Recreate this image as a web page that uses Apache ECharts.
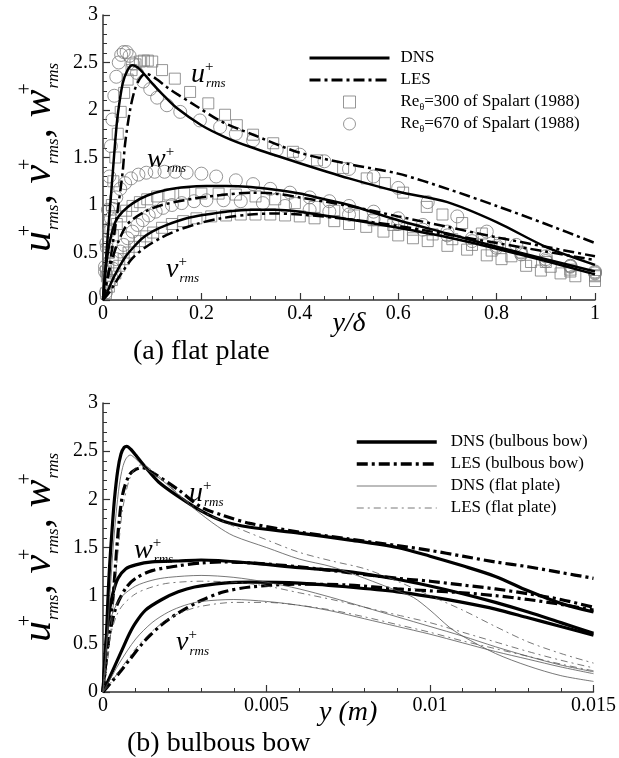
<!DOCTYPE html>
<html>
<head>
<meta charset="utf-8">
<script src="https://cdn.jsdelivr.net/npm/echarts@6/dist/echarts.min.js"></script>
<style>
html, body { margin: 0; padding: 0; background: #fff; }
#main { width: 619px; height: 758px; }
</style>
</head>
<body>
<div id="main"></div>
<script>
// ---- (a) flat plate, x is y/delta ----
var flatDnsU = [[0,0],[0.005,0.35],[0.01,0.7],[0.015,1.02],[0.02,1.35],[0.025,1.68],[0.03,1.95],[0.04,2.28],[0.05,2.42],[0.06,2.47],[0.07,2.45],[0.08,2.4],[0.1,2.28],[0.12,2.17],[0.15,2.02],[0.2,1.84],[0.25,1.71],[0.3,1.61],[0.4,1.44],[0.5,1.28],[0.6,1.14],[0.7,1.03],[0.8,0.82],[0.9,0.56],[1.0,0.37]];
var flatLesU = [[0,0],[0.01,0.25],[0.02,0.6],[0.03,0.95],[0.04,1.35],[0.045,1.65],[0.055,2.0],[0.065,2.22],[0.075,2.33],[0.085,2.38],[0.095,2.37],[0.11,2.32],[0.13,2.24],[0.15,2.17],[0.19,2.04],[0.24,1.88],[0.3,1.75],[0.4,1.55],[0.5,1.43],[0.6,1.33],[0.7,1.17],[0.8,0.99],[0.9,0.8],[1.0,0.6]];
var flatDnsW = [[0,0],[0.005,0.3],[0.01,0.5],[0.014,0.62],[0.025,0.82],[0.04,0.93],[0.061,1.02],[0.09,1.1],[0.13,1.16],[0.17,1.19],[0.21,1.2],[0.25,1.2],[0.3,1.19],[0.35,1.16],[0.4,1.12],[0.45,1.06],[0.5,1.0],[0.6,0.84],[0.7,0.7],[0.8,0.56],[0.9,0.43],[1.0,0.3]];
var flatLesW = [[0,0],[0.01,0.25],[0.02,0.45],[0.03,0.6],[0.05,0.8],[0.085,0.93],[0.12,1.0],[0.187,1.07],[0.25,1.11],[0.3,1.13],[0.35,1.12],[0.4,1.08],[0.5,0.99],[0.6,0.88],[0.7,0.77],[0.8,0.66],[0.9,0.56],[1.0,0.46]];
var flatDnsV = [[0,0],[0.01,0.1],[0.02,0.22],[0.03,0.32],[0.045,0.45],[0.061,0.55],[0.08,0.65],[0.1,0.72],[0.13,0.79],[0.17,0.86],[0.21,0.9],[0.25,0.93],[0.3,0.95],[0.35,0.95],[0.4,0.93],[0.45,0.89],[0.5,0.85],[0.6,0.76],[0.7,0.66],[0.8,0.54],[0.9,0.41],[1.0,0.27]];
var flatLesV = [[0,0],[0.01,0.06],[0.02,0.14],[0.04,0.3],[0.06,0.44],[0.085,0.55],[0.12,0.66],[0.15,0.73],[0.19,0.8],[0.24,0.86],[0.3,0.9],[0.35,0.91],[0.4,0.9],[0.5,0.85],[0.6,0.78],[0.7,0.69],[0.8,0.6],[0.9,0.51],[1.0,0.42]];

// Spalart (1988) data
var spal300U = [[0.008,0.25],[0.012,0.5],[0.015,0.75],[0.018,1.0],[0.021,1.25],[0.025,1.5],[0.03,1.75],[0.036,1.98],[0.043,2.18],[0.05,2.32],[0.058,2.42],[0.066,2.48],[0.075,2.51],[0.083,2.52],[0.091,2.52],[0.1,2.51],[0.12,2.42],[0.146,2.33],[0.177,2.19],[0.214,2.07],[0.248,1.95],[0.272,1.84],[0.305,1.74],[0.346,1.65],[0.386,1.56],[0.435,1.47],[0.488,1.39],[0.536,1.28],[0.573,1.23],[0.61,1.13],[0.658,0.98],[0.69,0.9],[0.73,0.81],[0.77,0.7],[0.807,0.6],[0.85,0.5],[0.9,0.4],[0.95,0.32],[1.0,0.26]];
var spal300W = [[0.006,0.3],[0.012,0.5],[0.02,0.68],[0.028,0.8],[0.037,0.88],[0.047,0.94],[0.06,0.99],[0.075,1.03],[0.09,1.06],[0.11,1.09],[0.135,1.11],[0.165,1.12],[0.2,1.12],[0.235,1.12],[0.27,1.11],[0.31,1.09],[0.35,1.06],[0.39,1.02],[0.43,0.98],[0.47,0.94],[0.51,0.89],[0.55,0.84],[0.59,0.79],[0.63,0.74],[0.67,0.69],[0.71,0.64],[0.75,0.58],[0.79,0.52],[0.83,0.46],[0.87,0.4],[0.91,0.35],[0.95,0.3],[1.0,0.25]];
var spal300V = [[0.006,0.07],[0.012,0.14],[0.018,0.21],[0.025,0.28],[0.033,0.36],[0.042,0.43],[0.052,0.5],[0.063,0.56],[0.075,0.62],[0.088,0.67],[0.102,0.71],[0.12,0.76],[0.14,0.8],[0.163,0.83],[0.19,0.86],[0.22,0.88],[0.25,0.89],[0.28,0.9],[0.31,0.9],[0.34,0.9],[0.37,0.89],[0.4,0.88],[0.43,0.86],[0.47,0.83],[0.5,0.8],[0.535,0.77],[0.57,0.72],[0.6,0.68],[0.63,0.65],[0.66,0.62],[0.7,0.57],[0.74,0.53],[0.78,0.47],[0.81,0.43],[0.86,0.36],[0.89,0.31],[0.93,0.28],[0.96,0.25],[1.0,0.2]];
var spal670U = [[0.004,0.3],[0.007,0.6],[0.01,0.95],[0.013,1.3],[0.016,1.62],[0.019,1.9],[0.023,2.15],[0.027,2.35],[0.032,2.5],[0.037,2.58],[0.042,2.61],[0.048,2.61],[0.054,2.57],[0.061,2.49],[0.069,2.39],[0.082,2.3],[0.096,2.22],[0.11,2.13],[0.13,2.05],[0.157,1.98],[0.197,1.89],[0.238,1.82],[0.27,1.75],[0.305,1.68],[0.353,1.58],[0.4,1.53],[0.45,1.46],[0.5,1.38],[0.55,1.3],[0.6,1.18],[0.66,1.03],[0.72,0.88],[0.78,0.72],[0.84,0.58],[0.9,0.46],[0.95,0.36],[1.0,0.29]];
var spal670W = [[0.004,0.35],[0.008,0.55],[0.012,0.72],[0.016,0.86],[0.02,0.96],[0.027,1.08],[0.035,1.17],[0.045,1.23],[0.057,1.28],[0.072,1.32],[0.088,1.34],[0.105,1.35],[0.125,1.35],[0.147,1.35],[0.17,1.34],[0.2,1.33],[0.23,1.3],[0.27,1.26],[0.305,1.22],[0.34,1.17],[0.38,1.13],[0.42,1.08],[0.46,1.04],[0.5,0.99],[0.55,0.93],[0.6,0.86],[0.65,0.79],[0.7,0.72],[0.75,0.65],[0.8,0.57],[0.85,0.5],[0.9,0.43],[0.95,0.36],[1.0,0.3]];
var spal670V = [[0.006,0.08],[0.012,0.18],[0.02,0.33],[0.027,0.43],[0.035,0.51],[0.042,0.58],[0.05,0.65],[0.06,0.72],[0.07,0.79],[0.081,0.84],[0.093,0.89],[0.107,0.93],[0.122,0.97],[0.14,1.0],[0.16,1.02],[0.185,1.04],[0.21,1.05],[0.245,1.05],[0.28,1.04],[0.325,1.02],[0.37,0.99],[0.42,0.95],[0.46,0.93],[0.5,0.9],[0.55,0.85],[0.6,0.8],[0.65,0.74],[0.7,0.68],[0.75,0.62],[0.8,0.55],[0.85,0.48],[0.9,0.41],[0.95,0.35],[1.0,0.28]];

// ---- (b) bulbous bow, x is y in metres ----
var bowDnsU = [[0,0],[0.0001,0.55],[0.00015,0.96],[0.0002,1.3],[0.00027,1.65],[0.00035,2.0],[0.00045,2.3],[0.00055,2.47],[0.00065,2.54],[0.00073,2.55],[0.00085,2.52],[0.001,2.46],[0.00128,2.34],[0.0017,2.18],[0.0023,2.03],[0.003,1.88],[0.0037,1.77],[0.0045,1.71],[0.006,1.65],[0.0075,1.58],[0.009,1.5],[0.01,1.41],[0.011,1.31],[0.012,1.2],[0.013,1.05],[0.014,0.92],[0.015,0.83]];
var bowLesU = [[0,0],[0.0001,0.35],[0.0002,0.7],[0.0003,0.96],[0.00046,1.65],[0.0006,2.05],[0.0008,2.25],[0.001,2.31],[0.0012,2.33],[0.0015,2.28],[0.0023,2.1],[0.003,1.92],[0.0037,1.83],[0.0045,1.75],[0.006,1.66],[0.0075,1.59],[0.009,1.52],[0.01,1.47],[0.011,1.41],[0.012,1.35],[0.013,1.3],[0.014,1.24],[0.015,1.18]];
var bowDnsW = [[0,0],[0.0001,0.55],[0.0002,0.85],[0.0003,1.02],[0.00046,1.18],[0.0007,1.28],[0.001,1.32],[0.0015,1.35],[0.0023,1.36],[0.003,1.37],[0.0045,1.34],[0.006,1.29],[0.0075,1.25],[0.009,1.17],[0.01,1.1],[0.011,1.02],[0.012,0.93],[0.013,0.83],[0.014,0.72],[0.015,0.61]];
var bowLesW = [[0,0],[0.0001,0.35],[0.0002,0.6],[0.0004,0.88],[0.0007,1.08],[0.001,1.18],[0.0015,1.26],[0.0023,1.31],[0.003,1.34],[0.0037,1.35],[0.0045,1.34],[0.006,1.3],[0.0075,1.24],[0.009,1.18],[0.01,1.15],[0.011,1.11],[0.012,1.07],[0.013,1.02],[0.014,0.96],[0.015,0.88]];
var bowDnsV = [[0,0],[0.0002,0.15],[0.0004,0.3],[0.0006,0.45],[0.0008,0.6],[0.001,0.72],[0.0013,0.85],[0.0018,0.96],[0.0023,1.04],[0.0028,1.09],[0.0037,1.13],[0.0045,1.14],[0.006,1.13],[0.0075,1.09],[0.009,1.04],[0.01,0.99],[0.011,0.93],[0.012,0.86],[0.013,0.77],[0.014,0.68],[0.015,0.59]];
var bowLesV = [[0,0],[0.0002,0.08],[0.0005,0.2],[0.0008,0.33],[0.0013,0.54],[0.0018,0.7],[0.0023,0.82],[0.003,0.95],[0.0037,1.04],[0.0045,1.09],[0.006,1.12],[0.0075,1.11],[0.009,1.07],[0.01,1.05],[0.011,1.03],[0.012,1.0],[0.013,0.96],[0.014,0.91],[0.015,0.85]];
var plateDnsU = [[0,0],[0.0001,0.45],[0.0002,0.95],[0.0003,1.45],[0.0004,1.85],[0.0005,2.15],[0.0006,2.33],[0.0007,2.42],[0.00083,2.46],[0.001,2.42],[0.0013,2.32],[0.0018,2.2],[0.0023,2.05],[0.0028,1.9],[0.0035,1.72],[0.004,1.62],[0.005,1.5],[0.006,1.38],[0.007,1.3],[0.008,1.18],[0.009,1.05],[0.0095,0.98],[0.01,0.85],[0.0106,0.67],[0.011,0.58],[0.012,0.4],[0.013,0.27],[0.014,0.17],[0.015,0.11]];
var plateLesU = [[0,0],[0.0001,0.2],[0.0002,0.5],[0.0003,0.85],[0.0004,1.25],[0.0005,1.6],[0.0006,1.9],[0.0008,2.2],[0.001,2.33],[0.0012,2.36],[0.0015,2.3],[0.002,2.15],[0.0025,2.0],[0.003,1.88],[0.004,1.72],[0.005,1.58],[0.006,1.45],[0.007,1.36],[0.008,1.28],[0.009,1.15],[0.01,1.0],[0.011,0.85],[0.012,0.68],[0.013,0.52],[0.014,0.4],[0.015,0.3]];
var plateDnsW = [[0,0],[0.0001,0.45],[0.0002,0.72],[0.0004,0.9],[0.0006,1.0],[0.001,1.1],[0.0015,1.16],[0.002,1.19],[0.003,1.21],[0.004,1.19],[0.005,1.14],[0.006,1.07],[0.007,0.98],[0.008,0.88],[0.009,0.78],[0.01,0.68],[0.011,0.58],[0.012,0.47],[0.013,0.37],[0.014,0.28],[0.015,0.21]];
var plateLesW = [[0,0],[0.0001,0.3],[0.0002,0.55],[0.0004,0.78],[0.0006,0.9],[0.001,1.02],[0.0015,1.09],[0.002,1.13],[0.003,1.15],[0.004,1.14],[0.005,1.1],[0.006,1.03],[0.007,0.96],[0.008,0.88],[0.009,0.8],[0.01,0.72],[0.011,0.62],[0.012,0.52],[0.013,0.42],[0.014,0.33],[0.015,0.25]];
var plateDnsV = [[0,0],[0.0002,0.12],[0.0005,0.3],[0.001,0.55],[0.0015,0.72],[0.002,0.83],[0.0025,0.9],[0.003,0.94],[0.004,0.96],[0.005,0.94],[0.006,0.9],[0.007,0.84],[0.008,0.76],[0.009,0.68],[0.01,0.6],[0.011,0.51],[0.012,0.42],[0.013,0.34],[0.014,0.26],[0.015,0.19]];
var plateLesV = [[0,0],[0.0002,0.08],[0.0005,0.22],[0.001,0.45],[0.0015,0.63],[0.002,0.76],[0.0025,0.84],[0.003,0.89],[0.004,0.93],[0.005,0.93],[0.006,0.9],[0.007,0.85],[0.008,0.78],[0.009,0.7],[0.01,0.62],[0.011,0.53],[0.012,0.45],[0.013,0.37],[0.014,0.29],[0.015,0.22]];

var SERIF = "'Liberation Serif','Times New Roman',serif";
var DASH = [11, 4, 3, 4];
var THIN_DASH = [7, 4, 2, 4];

function line(name, data, gi, width, dash, color) {
    return {
        name: name, type: 'line', xAxisIndex: gi, yAxisIndex: gi,
        data: data, symbol: 'none', smooth: 0.3, silent: true, z: 5,
        lineStyle: { color: color, width: width, type: dash }
    };
}
function marks(name, data, sym, size) {
    return {
        name: name, type: 'scatter', xAxisIndex: 0, yAxisIndex: 0,
        data: data, symbol: sym, symbolSize: size, silent: true, z: 2,
        itemStyle: { color: 'rgba(0,0,0,0)', borderColor: '#7c7c7c', borderWidth: 1 }
    };
}

// rich text for u+rms style labels (+ stacked over rms)
function richSet(big, sup, sub, lh) {
    return {
        m: { fontFamily: SERIF, fontStyle: 'italic', fontSize: big, lineHeight: lh, color: '#000' },
        p: { fontFamily: SERIF, fontSize: sup, verticalAlign: 'top', width: 1, lineHeight: sup + 2, color: '#000' },
        s: { fontFamily: SERIF, fontStyle: 'italic', fontSize: sub, verticalAlign: 'bottom', lineHeight: sub + 2, color: '#000' }
    };
}
function rms(letter) { return '{m|' + letter + '}{p|+}{s|rms}'; }
function tag(letter, x, y) {
    return {
        type: 'text', x: x, y: y, z: 100, silent: true,
        style: { text: rms(letter), rich: richSet(28, 15, 13, 30), verticalAlign: 'middle', align: 'left' }
    };
}

var yName = rms('u') + '{m|, }' + rms('v') + '{m|, }' + rms('w');

function xAxis(gi, max, interval, split, name, gap) {
    return {
        gridIndex: gi, type: 'value', min: 0, max: max, interval: interval,
        name: name, nameLocation: 'middle', nameGap: gap, nameMoveOverlap: false,
        nameTextStyle: { fontFamily: SERIF, fontStyle: 'italic', fontSize: 28, color: '#000',
            rich: { i: { fontFamily: SERIF, fontStyle: 'italic', fontSize: 28, color: '#000' },
                    n: { fontFamily: SERIF, fontSize: 28, color: '#000' } } },
        axisLine: { onZero: false, lineStyle: { color: '#333', width: 1.5 } },
        axisTick: { inside: true, length: 7, lineStyle: { color: '#333', width: 1.2 } },
        minorTick: { show: true, splitNumber: split, length: 4, lineStyle: { color: '#333', width: 1 } },
        axisLabel: { color: '#000', fontFamily: SERIF, fontSize: 20, margin: 4 },
        splitLine: { show: false }
    };
}
function yAxis(gi) {
    return {
        gridIndex: gi, type: 'value', min: 0, max: 3, interval: 0.5,
        name: yName, nameLocation: 'middle', nameRotate: 90, nameGap: 41, nameMoveOverlap: false,
        nameTextStyle: { rich: richSet(42, 20, 17, 46) },
        axisLine: { onZero: false, lineStyle: { color: '#333', width: 1.5 } },
        axisTick: { inside: true, length: 7, lineStyle: { color: '#333', width: 1.2 } },
        minorTick: { show: true, splitNumber: 5, length: 4, lineStyle: { color: '#333', width: 1 } },
        axisLabel: { color: '#000', fontFamily: SERIF, fontSize: 20, margin: 5 },
        splitLine: { show: false }
    };
}

var legendText = { fontFamily: SERIF, fontSize: 17, color: '#000', lineHeight: 20, padding: [0, 0, 0, 6],
    rich: { sb: { fontFamily: SERIF, fontSize: 10, verticalAlign: 'bottom', lineHeight: 18, color: '#000' } } };
var legendNames = {
    'Re300': 'Re{sb|θ}=300 of Spalart (1988)',
    'Re670': 'Re{sb|θ}=670 of Spalart (1988)'
};
var noDot = { opacity: 0 };

var chart = echarts.init(document.getElementById('main'));
chart.setOption({
    animation: false,
    backgroundColor: '#fff',
    title: [
        { text: '(a) flat plate', left: 128, top: 333, textStyle: { fontFamily: SERIF, fontSize: 28, fontWeight: 'normal', color: '#000' } },
        { text: '(b) bulbous bow', left: 122, top: 725, textStyle: { fontFamily: SERIF, fontSize: 28, fontWeight: 'normal', color: '#000' } }
    ],
    grid: [
        { left: 103, top: 15, width: 492, height: 285 },
        { left: 103, top: 403, width: 492, height: 289 }
    ],
    xAxis: [
        xAxis(0, 1, 0.2, 4, '{i|y}{n|/δ}', 10),
        xAxis(1, 0.015, 0.005, 5, '{i|y (m)}', 7)
    ],
    yAxis: [yAxis(0), yAxis(1)],
    legend: [
        {
            left: 308, top: 48, orient: 'vertical', padding: 0, itemGap: 2,
            itemWidth: 80, itemHeight: 12, selectedMode: false, textStyle: legendText,
            formatter: function (n) { return legendNames[n] || n; },
            data: [
                { name: 'DNS', itemStyle: noDot, lineStyle: { width: 3 } },
                { name: 'LES', itemStyle: noDot, lineStyle: { width: 3 } },
                { name: 'Re300', icon: 'path://M0 0H12V12H0Z', itemStyle: { borderWidth: 1 } },
                { name: 'Re670', icon: 'circle', itemStyle: { borderWidth: 1 } }
            ]
        },
        {
            left: 355, top: 432, orient: 'vertical', padding: 0, itemGap: 2,
            itemWidth: 80, itemHeight: 12, selectedMode: false,
            textStyle: { fontFamily: SERIF, fontSize: 17, color: '#000', lineHeight: 20, padding: [0, 0, 0, 9] },
            data: [
                { name: 'DNS (bulbous bow)', itemStyle: noDot, lineStyle: { width: 3.5 } },
                { name: 'LES (bulbous bow)', itemStyle: noDot, lineStyle: { width: 3.5 } },
                { name: 'DNS (flat plate)', itemStyle: noDot, lineStyle: { width: 0.8 } },
                { name: 'LES (flat plate)', itemStyle: noDot, lineStyle: { width: 0.8 } }
            ]
        }
    ],
    graphic: [
        tag('u', 191, 75), tag('w', 147, 160), tag('v', 166, 270),
        tag('u', 189, 494), tag('w', 134, 551), tag('v', 176, 643)
    ],
    series: [
        marks('Re300', spal300U, 'rect', 11),
        marks('Re300', spal300W, 'rect', 11),
        marks('Re300', spal300V, 'rect', 11),
        marks('Re670', spal670U, 'circle', 13),
        marks('Re670', spal670W, 'circle', 13),
        marks('Re670', spal670V, 'circle', 13),
        line('DNS', flatDnsU, 0, 2.5, 'solid', '#000'),
        line('DNS', flatDnsW, 0, 2.5, 'solid', '#000'),
        line('DNS', flatDnsV, 0, 2.5, 'solid', '#000'),
        line('LES', flatLesU, 0, 2.5, DASH, '#000'),
        line('LES', flatLesW, 0, 2.5, DASH, '#000'),
        line('LES', flatLesV, 0, 2.5, DASH, '#000'),
        line('DNS (bulbous bow)', bowDnsU, 1, 3.2, 'solid', '#000'),
        line('DNS (bulbous bow)', bowDnsW, 1, 3.2, 'solid', '#000'),
        line('DNS (bulbous bow)', bowDnsV, 1, 3.2, 'solid', '#000'),
        line('LES (bulbous bow)', bowLesU, 1, 3.2, DASH, '#000'),
        line('LES (bulbous bow)', bowLesW, 1, 3.2, DASH, '#000'),
        line('LES (bulbous bow)', bowLesV, 1, 3.2, DASH, '#000'),
        line('DNS (flat plate)', plateDnsU, 1, 0.8, 'solid', '#555'),
        line('DNS (flat plate)', plateDnsW, 1, 0.8, 'solid', '#555'),
        line('DNS (flat plate)', plateDnsV, 1, 0.8, 'solid', '#555'),
        line('LES (flat plate)', plateLesU, 1, 0.8, THIN_DASH, '#555'),
        line('LES (flat plate)', plateLesW, 1, 0.8, THIN_DASH, '#555'),
        line('LES (flat plate)', plateLesV, 1, 0.8, THIN_DASH, '#555')
    ]
});
</script>
</body>
</html>
